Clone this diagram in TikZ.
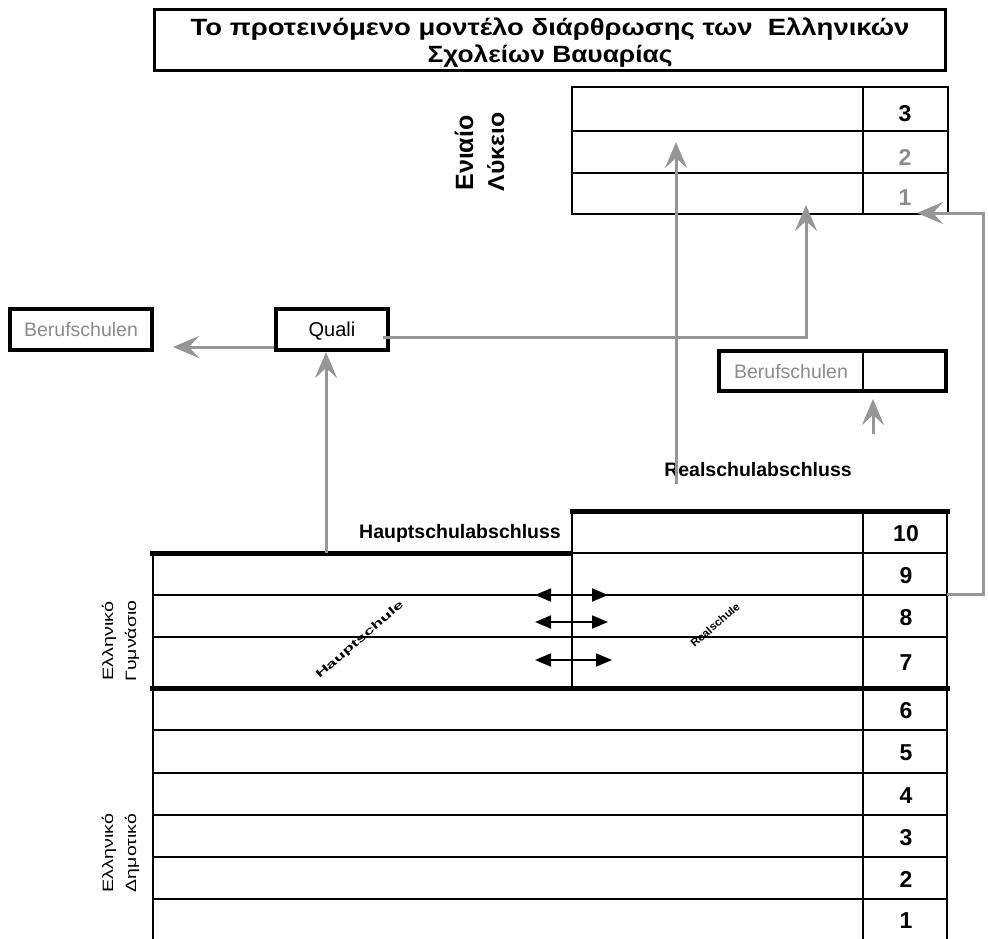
\documentclass[tikz,border=0pt]{standalone}
\usepackage{fontspec}
\setmainfont{Liberation Sans}
\usetikzlibrary{arrows.meta}
\definecolor{arrgray}{RGB}{150,150,150}
\definecolor{txtgray}{RGB}{140,140,140}
\tikzset{
  thinline/.style={line width=1.8pt},
  thickline/.style={line width=5pt},
  grayarrow/.style={draw=arrgray, line width=3pt, -{Stealth[length=26pt,width=22pt,inset=10pt]}},
  dblarrow/.style={line width=1.8pt, {Triangle[length=16pt,width=13pt]}-{Triangle[length=16pt,width=13pt]}},
  boxthick/.style={draw, line width=4pt, inner sep=0pt},
  numtext/.style={font=\bfseries\fontsize{23}{23}\selectfont, text height=16pt, text depth=0pt, inner sep=0pt},
  labtext/.style={font=\bfseries\fontsize{19.5}{20}\selectfont},
  bertext/.style={font=\fontsize{19.5}{20}\selectfont, text=txtgray, text height=14pt, text depth=0pt},
  titletext/.style={font=\bfseries\fontsize{23.5}{23.5}\selectfont, anchor=base, inner sep=0pt},
}
\begin{document}
\begin{tikzpicture}[x=1pt,y=-1pt]
\useasboundingbox (0,0) rectangle (988,939);
\fill[white] (0,0) rectangle (988,939);

% title
\node[draw, line width=3.5pt, minimum width=791pt, minimum height=61pt, inner sep=0pt] (title) at (550,40) {};
\node[titletext] (title1) at (550,36) {\scalebox{1.17}[1]{Το προτεινόμενο μοντέλο διάρθρωσης των\ \ Ελληνικών}};
\node[titletext] (title2) at (550,63) {\scalebox{1.12}[1]{Σχολείων Βαυαρίας}};

% Lyceum table
\node[draw, thinline, minimum width=376pt, minimum height=127pt, inner sep=0pt] (lyc) at (760,150.5) {};
\draw[thinline] (572,131) -- (948,131);
\draw[thinline] (572,173) -- (948,173);
\draw[thinline] (863,87) -- (863,214);
\node[numtext] (l3) at (905,114) {3};
\node[numtext, text=txtgray] (l2) at (905,157) {2};
\node[numtext, text=txtgray] (l1) at (905,197) {1};

\node[rotate=90, anchor=base, font=\bfseries\fontsize{25}{25}\selectfont] (en1) at (473,153) {Ενιαίο};
\node[rotate=90, anchor=base, font=\bfseries\fontsize{23}{23}\selectfont] (en2) at (504,152) {\scalebox{1.08}[1]{Λύκειο}};

% Berufschulen left and Quali
\node[boxthick, minimum width=142pt, minimum height=41pt, bertext] (berL) at (81,329.5) {Berufschulen};
\node[boxthick, minimum width=112pt, minimum height=41pt, font=\fontsize{20}{20}\selectfont, text height=14pt, text depth=0pt] (quali) at (332,329.5) {Quali};

% Berufschulen right
\node[boxthick, minimum width=227pt, minimum height=40pt] (berR) at (832.5,371) {};
\draw[thinline] (863,351) -- (863,391);
\node[bertext] (berRt) at (791,371) {Berufschulen};

% labels
\node[labtext] (real) at (758,470) {Realschulabschluss};
\node[labtext] (haupt) at (460,533) {Hauptschulabschluss};

% lower table
\draw[thickline] (570,511) -- (950,511);
\draw[thickline] (150,553) -- (572,553);
\draw[thinline] (572,553) -- (947,553);
\foreach \yy in {595,637,730,773,815,857,899} \draw[thinline] (153,\yy) -- (947,\yy);
\draw[thickline] (150,688) -- (950,688);
\draw[thinline] (153,553) -- (153,939);
\draw[thinline] (572,511) -- (572,688);
\draw[thinline] (863,511) -- (863,939);
\draw[thinline] (947,511) -- (947,939);

\node[numtext] (n10) at (906,533) {10};
\node[numtext] (n9) at (906,575) {9};
\node[numtext] (n8) at (906,617) {8};
\node[numtext] (n7) at (906,662) {7};
\node[numtext] (n6) at (906,710) {6};
\node[numtext] (n5) at (906,752) {5};
\node[numtext] (n4) at (906,795) {4};
\node[numtext] (n3) at (906,837) {3};
\node[numtext] (n2) at (906,879) {2};
\node[numtext] (n1) at (906,920) {1};

\node[rotate=41, font=\bfseries\fontsize{11}{11}\selectfont, inner sep=0pt] (hs) at (360,640) {\scalebox{1.7}[1]{Hauptschule}};
\node[rotate=41, font=\bfseries\fontsize{11}{11}\selectfont, inner sep=0pt] (rs) at (715,625) {\scalebox{1.05}[1]{Realschule}};

\node[rotate=90, anchor=base, font=\fontsize{15}{15}\selectfont] (g1) at (113,641) {\scalebox{1.32}[1]{Ελληνικό}};
\node[rotate=90, anchor=base, font=\fontsize{15}{15}\selectfont] (g2) at (136,641) {\scalebox{1.3}[1]{Γυμνάσιο}};
\node[rotate=90, anchor=base, font=\fontsize{15}{15}\selectfont] (d1) at (113,853) {\scalebox{1.32}[1]{Ελληνικό}};
\node[rotate=90, anchor=base, font=\fontsize{15}{15}\selectfont] (d2) at (136,853) {\scalebox{1.3}[1]{Δημοτικό}};

% double arrows
\coordinate (a1l) at (535,595); \coordinate (a1r) at (608,595);
\coordinate (a2l) at (535,622); \coordinate (a2r) at (608,622);
\coordinate (a3l) at (535,660); \coordinate (a3r) at (612,660);
\draw[dblarrow] (a1l) -- (a1r);
\draw[dblarrow] (a2l) -- (a2r);
\draw[dblarrow] (a3l) -- (a3r);

% gray arrows
\coordinate (blTip) at (173,347);
\draw[grayarrow] (quali.west |- blTip) -- (blTip);
\coordinate (hsTop) at (326,553);
\draw[grayarrow] (hsTop) -- (hsTop |- quali.south);
\coordinate (qr) at (383,337);
\coordinate (qc) at (806,337);
\coordinate (ly1) at (806,205);
\draw[grayarrow] (qr) -- (qc) -- (ly1);
\coordinate (rsTop) at (676,484);
\coordinate (ly2) at (676,142);
\draw[grayarrow] (rsTop) -- (ly2);
\coordinate (brB) at (873,434);
\coordinate (brT) at (873,399);
\draw[grayarrow] (brB) -- (brT);
\coordinate (r9) at (947,594);
\coordinate (rc1) at (983,594);
\coordinate (rc2) at (983,213);
\coordinate (lyR) at (917,213);
\draw[grayarrow] (r9) -- (rc1) -- (rc2) -- (lyR);
\end{tikzpicture}
\end{document}
